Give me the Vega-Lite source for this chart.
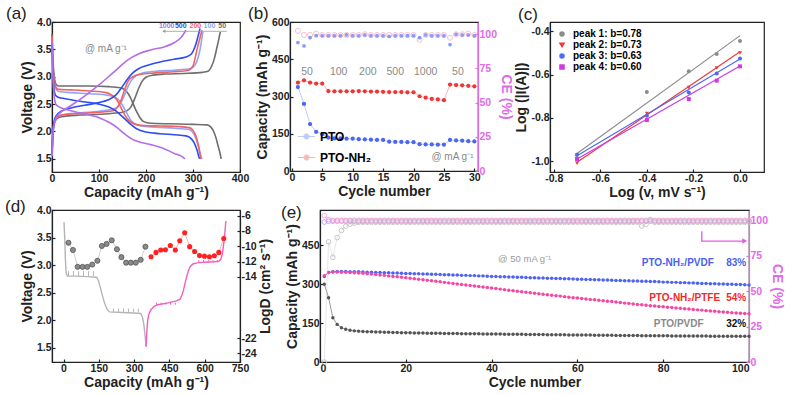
{
"$schema":"https://vega.github.io/schema/vega-lite/v6.json",
"background":"white",
"padding":{"left":4,"top":4,"right":0,"bottom":0},
"config":{
 "font":"Liberation Sans",
 "view":{"stroke":"#222","strokeWidth":1.2},
 "axis":{"grid":false,"tickCount":20,"labelFont":"Liberation Sans","labelFontSize":10.5,"labelFontWeight":"bold","labelColor":"#222","labelFlush":false,"labelOverlap":false,"labelPadding":4,"tickSize":-3,"tickColor":"#222","tickWidth":1.2,"domainColor":"#222","domainWidth":1.2,"titleFont":"Liberation Sans","titleFontSize":14,"titleFontWeight":"bold","titleColor":"#222","titlePadding":2},
 "title":{"font":"Liberation Sans","fontSize":17,"fontWeight":"normal","color":"#222","anchor":"start","frame":"group","baseline":"bottom"},
 "legend":{"labelFont":"Liberation Sans","labelFontWeight":"bold","titleFont":"Liberation Sans"}
},
"spacing":-4,
"resolve":{"scale":{"color":"independent","shape":"independent"}},
"vconcat":[
{"spacing":0,"resolve":{"scale":{"color":"independent","shape":"independent"}},
 "hconcat":[
 {"spacing":-3,"resolve":{"scale":{"color":"independent","shape":"independent"}},
  "hconcat":[
 {"width":188,"height":150,
  "title":{"text":"(a)","dx":-46,"offset":-6},
  "layer":[
   {"data":{"values":[
     {"r":"50","t":"d","x":[0,2,5,9,15,40,80,120,145,155,163,170,178,186,195,210,250,300,330,338,344,349,353,357,360],"y":[3.78,3.3,3.0,2.86,2.83,2.83,2.83,2.82,2.80,2.76,2.68,2.56,2.4,2.27,2.18,2.15,2.14,2.13,2.12,2.08,2.0,1.88,1.75,1.62,1.5]},
     {"r":"50","t":"c","x":[0,2,5,10,20,60,110,150,160,168,176,184,192,200,215,240,280,320,332,340,346,350,354,358],"y":[1.55,1.95,2.15,2.23,2.27,2.3,2.32,2.35,2.38,2.45,2.6,2.78,2.92,2.99,3.03,3.05,3.06,3.08,3.1,3.2,3.35,3.5,3.65,3.82]},
     {"r":"100","t":"d","x":[0,2,5,9,14,40,80,120,135,145,152,160,168,178,190,220,260,290,298,304,309,313,316,319],"y":[3.7,3.2,2.9,2.77,2.73,2.71,2.69,2.66,2.62,2.55,2.45,2.32,2.2,2.13,2.1,2.08,2.06,2.04,2.0,1.92,1.8,1.68,1.58,1.5]},
     {"r":"100","t":"c","x":[0,2,5,10,20,60,100,130,140,148,156,165,175,190,220,260,295,305,311,315,318,321],"y":[1.55,1.95,2.15,2.25,2.3,2.34,2.37,2.41,2.45,2.55,2.7,2.88,2.99,3.06,3.1,3.12,3.15,3.22,3.35,3.5,3.65,3.82]},
     {"r":"200","t":"d","x":[0,2,5,9,14,40,80,115,128,138,146,155,165,178,195,230,270,292,300,306,310,313,315,317],"y":[3.75,3.2,2.9,2.8,2.77,2.76,2.74,2.71,2.66,2.58,2.45,2.3,2.19,2.13,2.11,2.1,2.09,2.07,2.02,1.92,1.8,1.68,1.58,1.5]},
     {"r":"200","t":"c","x":[0,2,5,10,20,60,100,130,138,146,154,162,172,185,220,260,290,300,306,310,314,317,319],"y":[1.6,2.0,2.17,2.26,2.3,2.33,2.35,2.38,2.43,2.55,2.75,2.92,3.0,3.04,3.07,3.09,3.12,3.2,3.4,3.55,3.68,3.78,3.85]},
     {"r":"500","t":"d","x":[0,2,4,7,12,20,40,70,100,120,135,150,165,180,200,230,260,285,295,302,307,310,312,314],"y":[3.6,3.1,2.8,2.67,2.63,2.61,2.58,2.54,2.5,2.45,2.38,2.27,2.15,2.05,1.99,1.96,1.94,1.92,1.88,1.8,1.7,1.62,1.55,1.5]},
     {"r":"500","t":"c","x":[0,2,5,10,20,40,70,100,120,135,148,160,172,185,200,230,260,285,297,303,308,312,315],"y":[1.6,2.0,2.2,2.3,2.37,2.43,2.48,2.53,2.58,2.66,2.8,2.95,3.07,3.15,3.2,3.27,3.32,3.36,3.42,3.52,3.65,3.78,3.88]},
     {"r":"1000","t":"d","x":[0,2,4,8,15,30,60,100,125,140,155,170,190,210,235,260,275,283],"y":[3.65,3.0,2.7,2.5,2.45,2.4,2.34,2.25,2.15,2.06,1.95,1.86,1.8,1.76,1.7,1.6,1.55,1.5]},
     {"r":"1000","t":"c","x":[0,2,5,10,20,40,70,100,120,140,160,185,210,240,260,275,285],"y":[1.55,1.95,2.15,2.27,2.36,2.47,2.65,2.85,3.0,3.15,3.3,3.42,3.49,3.55,3.62,3.72,3.85]}
    ]},
    "transform":[{"flatten":["x","y"]}],
    "mark":{"type":"line","strokeWidth":1.6,"interpolate":"monotone"},
    "encoding":{
     "x":{"field":"x","type":"quantitative","scale":{"domain":[0,400],"nice":false},"axis":{"values":[0,100,200,300,400],"tickCount":20,"title":"Capacity (mAh g⁻¹)"}},
     "y":{"field":"y","type":"quantitative","scale":{"domain":[1.26,4.0],"nice":false,"zero":false},"axis":{"values":[1.5,2,2.5,3,3.5,4],"tickCount":20,"format":".1f","title":"Voltage (V)"}},
     "color":{"field":"r","type":"nominal","scale":{"domain":["50","100","200","500","1000"],"range":["#6e6e6e","#93a5f7","#f26262","#2e4cf0","#b46ee8"]},"legend":null},
     "detail":{"field":"t","type":"nominal"}
    }},
   {"data":{"values":[{"x":236,"x2":372,"y":3.83}]},
    "mark":{"type":"rule","color":"#9a9a9a","strokeWidth":0.8},
    "encoding":{"x":{"field":"x","type":"quantitative"},"x2":{"field":"x2"},"y":{"field":"y","type":"quantitative"}}},
   {"data":{"values":[{"x":238,"y":3.83}]},
    "mark":{"type":"point","shape":"triangle-left","filled":true,"size":12,"color":"#9a9a9a","opacity":1},
    "encoding":{"x":{"field":"x","type":"quantitative"},"y":{"field":"y","type":"quantitative"}}},
   {"data":{"values":[{"x":244,"y":3.92,"r":"1000"},{"x":274,"y":3.92,"r":"500"},{"x":305,"y":3.92,"r":"200"},{"x":335,"y":3.92,"r":"100"},{"x":362,"y":3.92,"r":"50"}]},
    "mark":{"type":"text","fontSize":7,"fontWeight":"bold"},
    "encoding":{"x":{"field":"x","type":"quantitative"},"y":{"field":"y","type":"quantitative"},"text":{"field":"r","type":"nominal"},
     "color":{"field":"r","type":"nominal","scale":{"domain":["50","100","200","500","1000"],"range":["#6e6e6e","#93a5f7","#f26262","#2e4cf0","#b46ee8"]},"legend":null}}},
   {"data":{"values":[{"x":70,"y":3.5,"t":"@ mA g⁻¹"}]},
    "mark":{"type":"text","fontSize":10,"align":"left","color":"#8a8a8a"},
    "encoding":{"x":{"field":"x","type":"quantitative"},"y":{"field":"y","type":"quantitative"},"text":{"field":"t","type":"nominal"}}}
  ]},
 {"width":188,"height":149,
  "title":{"text":"(b)","dx":-42,"offset":-6},
  "data":{"values":[{"c":[1,2,3,4,5,6,7,8,9,10,11,12,13,14,15,16,17,18,19,20,21,22,23,24,25,26,27,28,29,30],
    "PTO":[338,270,189,158,148,134,131,131,130,130,128,127,126,125,125,118,117,117,116,116,108,107,107,106,106,125,123,122,120,119],
    "PTO-NH₂":[356,365,356,352,352,322,321,321,321,321,322,321,320,320,319,318,318,318,317,317,301,295,290,288,285,348,346,345,343,341],
    "cePTO":[94,91.5,97.5,99,99,99,99,99,99.5,99,99,99.5,99,99,99,98.5,99,99,99,99,97.5,99.5,99,99,99,92.5,100,99.5,99.5,99],
    "ceNH2":[102.5,99.5,99.5,100.5,99.5,99.5,99.5,99.5,99.5,99.5,99.5,100,99.5,99.5,99.5,99.5,99.5,99.5,99.5,99.5,96,99.5,99.5,99.5,99.5,97.5,100,100,100.5,99.5]}]},
  "transform":[{"flatten":["c","PTO","PTO-NH₂","cePTO","ceNH2"]}],
  "resolve":{"scale":{"y":"independent"}},
  "layer":[
   {"layer":[
     {"transform":[{"fold":["PTO","PTO-NH₂"],"as":["s","v"]}],
      "mark":{"type":"line","strokeWidth":1,"opacity":0.35},
      "encoding":{
       "x":{"field":"c","type":"quantitative","scale":{"domain":[-0.3,30.6],"nice":false,"zero":false},"axis":{"values":[0,5,10,15,20,25,30],"tickCount":20,"title":"Cycle number"}},
       "y":{"field":"v","type":"quantitative","scale":{"domain":[0,600],"nice":false},"axis":{"values":[0,150,300,450,600],"tickCount":20,"title":"Capacity (mAh g⁻¹)"}},
       "color":{"field":"s","type":"nominal","scale":{"domain":["PTO","PTO-NH₂"],"range":["#4a66f2","#f03535"]}}}},
     {"transform":[{"fold":["PTO","PTO-NH₂"],"as":["s","v"]}],
      "mark":{"type":"point","filled":true,"size":18,"opacity":1},
      "encoding":{
       "x":{"field":"c","type":"quantitative"},
       "y":{"field":"v","type":"quantitative"},
       "color":{"field":"s","type":"nominal","scale":{"domain":["PTO","PTO-NH₂"],"range":["#4a66f2","#f03535"]},
        "legend":{"orient":"bottom-left","title":null,"offset":7,"padding":0,"labelFontSize":12,"labelFontWeight":"bold","symbolType":"M-1,0H1M0.3,0A0.3,0.3,0,1,1,-0.3,0A0.3,0.3,0,1,1,0.3,0Z","symbolSize":300,"symbolStrokeWidth":1,"rowPadding":5,"labelOffset":4,
         "encode":{"labels":{"update":{"fill":{"signal":"datum.value === 'PTO' ? '#4a66f2' : '#f03535'"}}},
                   "symbols":{"update":{"fill":{"signal":"datum.value === 'PTO' ? '#4a66f2' : '#f03535'"},"stroke":{"signal":"datum.value === 'PTO' ? '#aab8f8' : '#f5b0b0'"}}}}}}}},
     {"data":{"values":[{"c":2.5,"v":400,"t":"50"},{"c":7.7,"v":400,"t":"100"},{"c":12.5,"v":400,"t":"200"},{"c":17,"v":400,"t":"500"},{"c":22,"v":400,"t":"1000"},{"c":27.3,"v":400,"t":"50"}]},
      "mark":{"type":"text","fontSize":10.5,"color":"#8a8a8a"},
      "encoding":{"x":{"field":"c","type":"quantitative"},"y":{"field":"v","type":"quantitative"},"text":{"field":"t","type":"nominal"}}},
     {"data":{"values":[{"c":26.4,"v":55,"t":"@ mA g⁻¹"}]},
      "mark":{"type":"text","fontSize":10,"color":"#8a8a8a"},
      "encoding":{"x":{"field":"c","type":"quantitative"},"y":{"field":"v","type":"quantitative"},"text":{"field":"t","type":"nominal"}}}
   ]},
   {"layer":[
     {"mark":{"type":"point","filled":false,"size":26,"strokeWidth":1,"color":"#f2a8b8"},
      "encoding":{"x":{"field":"c","type":"quantitative"},
       "y":{"field":"ceNH2","type":"quantitative","scale":{"domain":[0,109],"nice":false},"axis":{"orient":"right","values":[0,25,50,75,100],"tickCount":20,"title":"CE (%)","labelColor":"#e06be6","titleColor":"#e06be6","domainColor":"#e06be6","tickColor":"#e06be6"}}}},
     {"mark":{"type":"point","filled":true,"size":14,"color":"#5a74f5"},
      "encoding":{"x":{"field":"c","type":"quantitative"},"y":{"field":"cePTO","type":"quantitative"}}}
   ]}
  ]}
  ]},
 {"width":214,"height":150,
  "title":{"text":"(c)","dx":-32,"offset":-2},
  "layer":[
   {"data":{"values":[
     {"p":"peak 1: b=0.78","x":[-0.7,0],"y":[-0.965,-0.42]},
     {"p":"peak 2: b=0.73","x":[-0.7,0],"y":[-1.005,-0.495]},
     {"p":"peak 3: b=0.63","x":[-0.7,0],"y":[-0.975,-0.528]},
     {"p":"peak 4: b=0.60","x":[-0.7,0],"y":[-0.99,-0.56]}]},
    "transform":[{"flatten":["x","y"]}],
    "mark":{"type":"line","strokeWidth":1.2},
    "encoding":{
     "x":{"field":"x","type":"quantitative","scale":{"domain":[-0.816,0.103],"nice":false,"zero":false},"axis":{"values":[-0.8,-0.6,-0.4,-0.2,0],"tickCount":20,"format":".1f","labelExpr":"replace(datum.label, '−', '-')","title":"Log (v, mV s⁻¹)"}},
     "y":{"field":"y","type":"quantitative","scale":{"domain":[-1.05,-0.357],"nice":false,"zero":false},"axis":{"values":[-1,-0.8,-0.6,-0.4],"tickCount":20,"format":".1f","labelExpr":"replace(datum.label, '−', '-')","title":"Log (|I(A)|)"}},
     "color":{"field":"p","type":"nominal","scale":{"domain":["peak 1: b=0.78","peak 2: b=0.73","peak 3: b=0.63","peak 4: b=0.60"],"range":["#8c8c8c","#f03a3a","#4a6af5","#d03ae0"]}}}},
   {"data":{"values":[
     {"p":"peak 1: b=0.78","x":[-0.7,-0.4,-0.22,-0.1,0],"y":[-0.97,-0.68,-0.585,-0.505,-0.445]},
     {"p":"peak 2: b=0.73","x":[-0.7,-0.4,-0.22,-0.1,0],"y":[-1.01,-0.78,-0.66,-0.57,-0.5]},
     {"p":"peak 3: b=0.63","x":[-0.7,-0.4,-0.22,-0.1,0],"y":[-0.97,-0.79,-0.683,-0.595,-0.526]},
     {"p":"peak 4: b=0.60","x":[-0.7,-0.4,-0.22,-0.1,0],"y":[-0.99,-0.81,-0.713,-0.628,-0.562]}]},
    "transform":[{"flatten":["x","y"]}],
    "mark":{"type":"point","filled":true,"size":16,"opacity":1},
    "encoding":{
     "x":{"field":"x","type":"quantitative"},
     "y":{"field":"y","type":"quantitative"},
     "color":{"field":"p","type":"nominal","scale":{"domain":["peak 1: b=0.78","peak 2: b=0.73","peak 3: b=0.63","peak 4: b=0.60"],"range":["#8c8c8c","#f03a3a","#4a6af5","#d03ae0"]},
      "legend":{"orient":"top-left","title":null,"offset":7,"padding":0,"labelFontSize":10,"labelFontWeight":"bold","symbolSize":16,"rowPadding":1,"labelOffset":6,
       "encode":{"labels":{"update":{"fill":{"signal":"datum.value === 'peak 1: b=0.78' ? '#8c8c8c' : datum.value === 'peak 2: b=0.73' ? '#f03a3a' : datum.value === 'peak 3: b=0.63' ? '#4a6af5' : '#d03ae0'"}}}}}},
     "shape":{"field":"p","type":"nominal","scale":{"domain":["peak 1: b=0.78","peak 2: b=0.73","peak 3: b=0.63","peak 4: b=0.60"],"range":["circle","triangle-down","circle","square"]},
      "legend":{"orient":"top-left","title":null,"offset":7,"padding":0,"labelFontSize":10,"labelFontWeight":"bold","symbolSize":16,"rowPadding":1,"labelOffset":6,
       "encode":{"labels":{"update":{"fill":{"signal":"datum.value === 'peak 1: b=0.78' ? '#8c8c8c' : datum.value === 'peak 2: b=0.73' ? '#f03a3a' : datum.value === 'peak 3: b=0.63' ? '#4a6af5' : '#d03ae0'"}}}}}}
    }}
  ]}
 ]},
{"spacing":7,"resolve":{"scale":{"color":"independent","shape":"independent"}},
 "hconcat":[
 {"width":188,"height":152,
  "title":{"text":"(d)","dx":-47,"offset":-11},
  "resolve":{"scale":{"y":"independent"}},
  "layer":[
   {"layer":[
     {"data":{"values":[{"x":[2,5,8,11,16,50,100,140,148,156,165,175,185,195,250,300,328,336,342,347,351],"y":[3.78,3.5,3.1,2.86,2.8,2.8,2.79,2.78,2.72,2.6,2.45,2.3,2.2,2.15,2.14,2.13,2.12,2.05,1.9,1.7,1.52]}]},
      "transform":[{"flatten":["x","y"]}],
      "mark":{"type":"line","color":"#b5b5b5","strokeWidth":1.4},
      "encoding":{
       "x":{"field":"x","type":"quantitative","scale":{"domain":[-49,750],"nice":false,"zero":false},"axis":{"values":[0,150,300,450,600,750],"tickCount":20,"title":"Capacity (mAh g⁻¹)"}},
       "y":{"field":"y","type":"quantitative","scale":{"domain":[1.24,4.0],"nice":false,"zero":false},"axis":{"values":[1.5,2,2.5,3,3.5,4],"tickCount":20,"format":".1f","title":"Voltage (V)"}}}},
     {"data":{"values":[{"x":[351,354,358,362,370,385,400,440,480,495,503,510,517,524,531,538,550,567,600,640,660,668,675,681,686,690],"y":[1.52,1.8,2.0,2.1,2.18,2.25,2.28,2.31,2.35,2.38,2.45,2.55,2.68,2.8,2.9,2.97,3.02,3.04,3.05,3.06,3.07,3.1,3.2,3.4,3.6,3.8]}]},
      "transform":[{"flatten":["x","y"]}],
      "mark":{"type":"line","color":"#ef5fc0","strokeWidth":1.4},
      "encoding":{"x":{"field":"x","type":"quantitative"},"y":{"field":"y","type":"quantitative"}}},
     {"data":{"values":[{"x":[21,42,64,85,106,127],"y":2.8,"y2":2.89},{"x":[212,234,255,276,297,318],"y":2.14,"y2":2.21}]},
      "transform":[{"flatten":["x"]}],
      "mark":{"type":"rule","color":"#b5b5b5","strokeWidth":1},
      "encoding":{"x":{"field":"x","type":"quantitative"},"y":{"field":"y","type":"quantitative"},"y2":{"field":"y2"}}},
     {"data":{"values":[{"x":[395,415,435,455,475],"y":2.28,"y2":2.32},{"x":[575,595,615,635,655],"y":3.05,"y2":3.09}]},
      "transform":[{"flatten":["x"]}],
      "mark":{"type":"rule","color":"#ef5fc0","strokeWidth":1},
      "encoding":{"x":{"field":"x","type":"quantitative"},"y":{"field":"y","type":"quantitative"},"y2":{"field":"y2"}}}
   ]},
   {"layer":[
     {"data":{"values":[{"x":[21,40,60,81,101,122,144,163,183,205,227,246,266,286,307,328,348],"y":[-9.55,-10.49,-12.7,-12.7,-12.7,-12.4,-11.9,-9.97,-9.7,-9.23,-10.4,-11.43,-12.15,-12.15,-12.15,-11.78,-10.06]}]},
      "transform":[{"flatten":["x","y"]}],
      "mark":{"type":"line","color":"#d0d0d0","strokeWidth":1},
      "encoding":{"x":{"field":"x","type":"quantitative"},
       "y":{"field":"y","type":"quantitative","scale":{"domain":[-25.13,-5.27],"nice":false,"zero":false},"axis":{"orient":"right","values":[-6,-8,-10,-12,-14,-22,-24],"tickCount":20,"labelExpr":"replace(datum.label, '−', '-')","title":"LogD (cm² s⁻¹)","titleAngle":270,"titleBaseline":"top"}}}},
     {"data":{"values":[{"x":[21,40,60,81,101,122,144,163,183,205,227,246,266,286,307,328,348],"y":[-9.55,-10.49,-12.7,-12.7,-12.7,-12.4,-11.9,-9.97,-9.7,-9.23,-10.4,-11.43,-12.15,-12.15,-12.15,-11.78,-10.06]}]},
      "transform":[{"flatten":["x","y"]}],
      "mark":{"type":"point","filled":true,"size":26,"color":"#8a8a8a","stroke":"#555","strokeWidth":0.8,"opacity":1},
      "encoding":{"x":{"field":"x","type":"quantitative"},"y":{"field":"y","type":"quantitative"}}},
     {"data":{"values":[{"x":[372,393,413,433,454,475,494,515,536,557,578,599,620,641,660,681],"y":[-11.38,-10.81,-10.5,-10.47,-9.91,-10.49,-9.29,-8.24,-10.06,-10.7,-11.23,-11.3,-11.37,-11.25,-10.81,-9.0]}]},
      "transform":[{"flatten":["x","y"]}],
      "mark":{"type":"line","color":"#f7b0b0","strokeWidth":1},
      "encoding":{"x":{"field":"x","type":"quantitative"},"y":{"field":"y","type":"quantitative"}}},
     {"data":{"values":[{"x":[372,393,413,433,454,475,494,515,536,557,578,599,620,641,660,681],"y":[-11.38,-10.81,-10.5,-10.47,-9.91,-10.49,-9.29,-8.24,-10.06,-10.7,-11.23,-11.3,-11.37,-11.25,-10.81,-9.0]}]},
      "transform":[{"flatten":["x","y"]}],
      "mark":{"type":"point","filled":true,"size":26,"color":"#ff2020","opacity":1},
      "encoding":{"x":{"field":"x","type":"quantitative"},"y":{"field":"y","type":"quantitative"}}}
   ]}
  ]},
 {"width":429,"height":152,
  "title":{"text":"(e)","dx":-39,"offset":-12},
  "data":{"values":[{
   "c":[1,2,3,4,5,6,7,8,9,10,11,12,13,14,15,16,17,18,19,20,21,22,23,24,25,26,27,28,29,30,31,32,33,34,35,36,37,38,39,40,41,42,43,44,45,46,47,48,49,50,51,52,53,54,55,56,57,58,59,60,61,62,63,64,65,66,67,68,69,70,71,72,73,74,75,76,77,78,79,80,81,82,83,84,85,86,87,88,89,90,91,92,93,94,95,96,97,98,99,100],
   "PVDF":[330,345,348,349,349,349,348,348,348,347,346,346,345,345,344,344,343,343,342,341,341,340,340,339,339,338,338,337,336,336,335,335,334,334,333,333,332,332,331,330,330,329,329,328,328,327,327,326,325,325,324,324,323,323,322,322,321,321,320,319,319,318,318,317,317,316,316,315,314,314,313,313,312,312,311,311,310,310,309,308,308,307,307,306,306,305,305,304,303,303,302,302,301,301,300,300,299,299,298,297],
   "PTFE":[333,345,347,347,346,346,345,344,343,342,340,339,337,335,334,332,330,329,327,325,323,321,319,317,315,313,311,309,307,305,303,301,299,297,295,293,291,289,287,285,283,281,279,277,275,273,271,269,267,265,263,261,259,257,255,254,252,250,248,247,245,243,241,240,238,236,234,233,231,229,227,226,224,222,221,219,217,216,214,213,211,210,208,207,205,204,202,201,200,198,197,196,194,193,192,190,189,188,187,186],
   "PTO":[300,248,171,145,132,126,122,120,119,118,117,117,116,116,115,115,114,114,113,113,113,112,112,112,111,111,111,111,110,110,110,110,109,109,109,109,109,108,108,108,108,108,107,107,107,107,107,106,106,106,106,106,105,105,105,105,105,104,104,104,104,104,104,103,103,103,103,103,102,102,102,102,102,102,101,101,101,101,101,101,101,100,100,100,100,100,100,100,100,100,99,99,99,99,99,99,99,99,99,99],
   "cPVDF":[99,99.6,99.6,99.6,99.6,99.6,99.6,99.6,99.6,99.6,99.6,99.6,99.6,99.6,99.6,99.6,99.6,99.6,99.6,99.6,99.6,99.6,99.6,99.6,99.6,99.6,99.6,99.6,99.6,99.6,99.6,99.6,99.6,99.6,99.6,99.6,99.6,99.6,99.6,99.6,99.6,99.6,99.6,99.6,99.6,99.6,99.6,99.6,99.6,99.6,99.6,99.6,99.6,99.6,99.6,99.6,99.6,99.6,99.6,99.6,99.6,99.6,99.6,99.6,99.6,99.6,99.6,99.6,99.6,99.6,99.6,99.6,99.6,99.6,99.6,99.6,99.6,99.6,99.6,99.6,99.6,99.6,99.6,99.6,99.6,99.6,99.6,99.6,99.6,99.6,99.6,99.6,99.6,99.6,99.6,99.6,99.6,99.6,99.6,99.6],
   "cPTFE":[103.5,100.8,100.2,100.2,100.2,100.2,100.2,100.2,100.2,100.2,100.2,100.2,100.2,100.2,100.2,100.2,100.2,100.2,100.2,100.2,100.2,100.2,100.2,100.2,100.2,100.2,100.2,100.2,100.2,100.2,100.2,100.2,100.2,100.2,100.2,100.2,100.2,100.2,100.2,100.2,100.2,100.2,100.2,100.2,100.2,100.2,100.2,100.2,100.2,100.2,100.2,100.2,100.2,100.2,100.2,100.2,100.2,100.2,100.2,100.2,100.2,100.2,100.2,100.2,100.2,100.2,100.2,100.2,100.2,100.2,100.2,100.2,100.2,100.2,100.2,100.2,100.2,100.2,100.2,100.2,100.2,100.2,100.2,100.2,100.2,100.2,100.2,100.2,100.2,100.2,100.2,100.2,100.2,100.2,100.2,100.2,100.2,100.2,100.2,100.2],
   "cPTO":[0,85,74,88,93,96,97.5,98.3,98.8,98.8,98.8,98.8,98.8,98.8,98.8,98.8,98.8,98.8,98.8,98.8,98.8,98.8,98.8,98.8,98.8,98.8,98.8,98.8,98.8,98.8,98.8,98.8,98.8,98.8,98.8,98.8,98.8,98.8,98.8,98.8,98.8,98.8,98.8,98.8,98.8,98.8,98.8,98.8,98.8,98.8,98.8,98.8,98.8,98.8,98.8,98.8,98.8,98.8,98.8,98.8,98.8,98.8,98.8,98.8,98.8,98.8,98.8,98.8,98.8,98.8,98.8,98.8,98.8,98.8,96.2,97.3,100.8,98.8,98.8,98.8,98.8,98.8,98.8,98.8,98.8,98.8,98.8,98.8,98.8,98.8,98.8,98.8,98.8,98.8,98.8,98.8,98.8,98.8,98.8,98.8]
  }]},
  "transform":[{"flatten":["c","PVDF","PTFE","PTO","cPVDF","cPTFE","cPTO"]}],
  "resolve":{"scale":{"y":"independent"}},
  "layer":[
   {"layer":[
     {"transform":[{"fold":["PVDF","PTFE","PTO"],"as":["s","v"]}],
      "mark":{"type":"line","strokeWidth":1,"opacity":0.6},
      "encoding":{
       "x":{"field":"c","type":"quantitative","scale":{"domain":[0,100],"nice":false},"axis":{"values":[0,20,40,60,80,100],"tickCount":20,"labelFlush":true,"title":"Cycle number"}},
       "y":{"field":"v","type":"quantitative","scale":{"domain":[0,586],"nice":false},"axis":{"values":[0,150,300,450],"tickCount":20,"title":"Capacity (mAh g⁻¹)"}},
       "color":{"field":"s","type":"nominal","scale":{"domain":["PVDF","PTFE","PTO","cPVDF","cPTFE","cPTO","tb","tr","tg","tk"],"range":["#4f63ee","#f04aa5","#555555","#b3a3f2","#f4a3d6","#c2c2c2","#4a5ff0","#f02a2a","#8a8a8a","#111111"]},"legend":null}}},
     {"transform":[{"fold":["PVDF","PTFE","PTO"],"as":["s","v"]}],
      "mark":{"type":"point","filled":true,"size":12,"opacity":1},
      "encoding":{
       "x":{"field":"c","type":"quantitative"},
       "y":{"field":"v","type":"quantitative"},
       "color":{"field":"s","type":"nominal","scale":{"domain":["PVDF","PTFE","PTO","cPVDF","cPTFE","cPTO","tb","tr","tg","tk"],"range":["#4f63ee","#f04aa5","#555555","#b3a3f2","#f4a3d6","#c2c2c2","#4a5ff0","#f02a2a","#8a8a8a","#111111"]},"legend":null}}},
     {"data":{"values":[{"x":83.4,"y":382,"t":"PTO-NH₂/PVDF","k":"tb"},{"x":97,"y":382,"t":"83%","k":"tb"},{"x":85,"y":247,"t":"PTO-NH₂/PTFE","k":"tr"},{"x":97,"y":247,"t":"54%","k":"tr"},{"x":83.6,"y":147,"t":"PTO/PVDF","k":"tg"},{"x":97,"y":147,"t":"32%","k":"tk"}]},
      "mark":{"type":"text","fontSize":10,"fontWeight":"bold"},
      "encoding":{"x":{"field":"x","type":"quantitative"},"y":{"field":"y","type":"quantitative"},"text":{"field":"t","type":"nominal"},
       "color":{"field":"k","type":"nominal","scale":{"domain":["PVDF","PTFE","PTO","cPVDF","cPTFE","cPTO","tb","tr","tg","tk"],"range":["#4f63ee","#f04aa5","#555555","#b3a3f2","#f4a3d6","#c2c2c2","#4a5ff0","#f02a2a","#8a8a8a","#111111"]},"legend":null}}},
     {"data":{"values":[{"x":47.7,"y":397,"t":"@ 50 mA g⁻¹"}]},
      "mark":{"type":"text","fontSize":9.5,"color":"#9a9a9a"},
      "encoding":{"x":{"field":"x","type":"quantitative"},"y":{"field":"y","type":"quantitative"},"text":{"field":"t","type":"nominal"}}}
   ]},
   {"layer":[
     {"transform":[{"fold":["cPVDF","cPTFE","cPTO"],"as":["s","v"]}],
      "mark":{"type":"line","strokeWidth":0.8,"opacity":0.5},
      "encoding":{
       "x":{"field":"c","type":"quantitative"},
       "y":{"field":"v","type":"quantitative","scale":{"domain":[0,107.5],"nice":false},"axis":{"orient":"right","values":[0,25,50,75,100],"tickCount":20,"title":"CE (%)","labelColor":"#e06be6","titleColor":"#e06be6","domainColor":"#e06be6","tickColor":"#e06be6"}},
       "color":{"field":"s","type":"nominal","scale":{"domain":["PVDF","PTFE","PTO","cPVDF","cPTFE","cPTO","tb","tr","tg","tk"],"range":["#4f63ee","#f04aa5","#555555","#b3a3f2","#f4a3d6","#c2c2c2","#4a5ff0","#f02a2a","#8a8a8a","#111111"]},"legend":null}}},
     {"transform":[{"fold":["cPVDF","cPTFE","cPTO"],"as":["s","v"]}],
      "mark":{"type":"point","filled":false,"size":22,"strokeWidth":0.9,"opacity":1},
      "encoding":{
       "x":{"field":"c","type":"quantitative"},
       "y":{"field":"v","type":"quantitative"},
       "color":{"field":"s","type":"nominal","scale":{"domain":["PVDF","PTFE","PTO","cPVDF","cPTFE","cPTO","tb","tr","tg","tk"],"range":["#4f63ee","#f04aa5","#555555","#b3a3f2","#f4a3d6","#c2c2c2","#4a5ff0","#f02a2a","#8a8a8a","#111111"]},"legend":null}}},
     {"data":{"values":[{"x":89,"y":92.5,"o":1},{"x":89,"y":85.5,"o":2},{"x":99,"y":85.5,"o":3}]},
      "mark":{"type":"line","color":"#e35ae6","strokeWidth":1.3},
      "encoding":{"x":{"field":"x","type":"quantitative"},"y":{"field":"y","type":"quantitative"},"order":{"field":"o","type":"quantitative"}}},
     {"data":{"values":[{"x":99,"y":85.5,"o":3}]},
      "mark":{"type":"point","shape":"triangle-right","filled":true,"size":30,"color":"#e35ae6","opacity":1},
      "encoding":{"x":{"field":"x","type":"quantitative"},"y":{"field":"y","type":"quantitative"}}}
   ]}
  ]}
 ]}
]
}
